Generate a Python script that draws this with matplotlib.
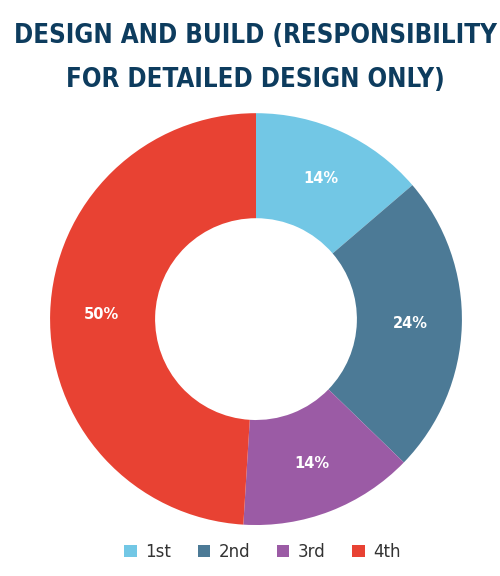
import matplotlib.pyplot as plt

categories = ["1st", "2nd", "3rd", "4th"]
values = [14, 24, 14, 50]
colors = ["#72c7e5", "#4c7a96", "#9b5ba5", "#e84233"]
title_lines = ["DESIGN AND BUILD (RESPONSIBILITY", "FOR DETAILED DESIGN ONLY)"]

fig = plt.figure(figsize=(5, 5.76), dpi=100)
ax = fig.add_axes([0.1, 0.0885, 0.824, 0.715])

total = sum(values)
wedges, texts, autotexts = ax.pie(
    values, colors=colors, startangle=90, counterclock=False,
    radius=1.0, pctdistance=0.75,
    autopct=lambda p: "{:.0f}%".format(p * total / 100.0),
    wedgeprops=dict(width=0.51, edgecolor="none"),
    textprops=dict(color="white", fontsize=10.5, fontweight="bold"))
ax.set_aspect("equal")
ax.set_xlim(-1, 1)
ax.set_ylim(-1, 1)
ax.axis("off")

# title, two lines
for i, line in enumerate(title_lines):
    fig.text(0.51, 1 - (36 + 44 * i) / 576, line, ha="center", va="center",
             color="#0d3c5e", fontsize=18.5, fontweight="bold",
             family="DejaVu Sans", fontstretch="condensed")

fig.legend(wedges, categories, loc="lower center", bbox_to_anchor=(0.525, 0.0),
           ncol=4, frameon=False, fontsize=12, handlelength=0.75,
           handleheight=0.75, handletextpad=0.5, columnspacing=1.6,
           labelcolor="#333333")

plt.savefig("out.png", dpi=100)
